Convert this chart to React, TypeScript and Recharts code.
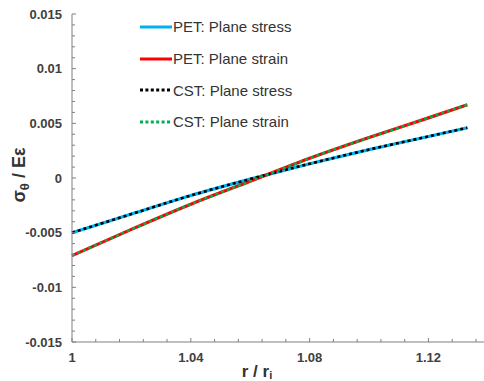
import { LineChart, Line, XAxis, YAxis, Legend, Customized } from "recharts";

const FONT = "'Liberation Sans', Arial, sans-serif";

// r / ri sample points and sigma_theta / E*eps
const rValues = [1, 1.02, 1.04, 1.06, 1.08, 1.1, 1.12, 1.1331];
const petStress = [-0.005, -0.0033, -0.0016, -0.0001, 0.0013, 0.0026, 0.0038, 0.0046];
const petStrain = [-0.0071, -0.0047, -0.0024, -0.0003, 0.0018, 0.0037, 0.0055, 0.0067];
const cstStress = [-0.005, -0.0033, -0.0016, -0.0001, 0.0013, 0.0026, 0.0038, 0.0046];
const cstStrain = [-0.0071, -0.0047, -0.0024, -0.0003, 0.0018, 0.0037, 0.0055, 0.0067];

const xTicks = [
  1, 1.008, 1.016, 1.024, 1.032, 1.04, 1.048, 1.056, 1.064, 1.072, 1.08, 1.088,
  1.096, 1.104, 1.112, 1.12, 1.128, 1.136,
];
const xLabels = [1, 1.04, 1.08, 1.12];
const yTicks = [
  -0.015, -0.014, -0.013, -0.012, -0.011, -0.01, -0.009, -0.008, -0.007, -0.006,
  -0.005, -0.004, -0.003, -0.002, -0.001, 0, 0.001, 0.002, 0.003, 0.004, 0.005,
  0.006, 0.007, 0.008, 0.009, 0.01, 0.011, 0.012, 0.013, 0.014, 0.015,
];
const yLabels = [-0.015, -0.01, -0.005, 0, 0.005, 0.01, 0.015];

const series = [
  { key: "petStress", name: "PET: Plane stress", color: "#00B0F0", dash: undefined, width: 3.2 },
  { key: "petStrain", name: "PET: Plane strain", color: "#FF0000", dash: undefined, width: 3.2 },
  { key: "cstStress", name: "CST: Plane stress", color: "#000000", dash: "3 3", width: 2.6 },
  { key: "cstStrain", name: "CST: Plane strain", color: "#00B050", dash: "3 3", width: 2.6 },
];

const data = rValues.map((r, i) => ({
  r,
  petStress: petStress[i],
  petStrain: petStrain[i],
  cstStress: cstStress[i],
  cstStrain: cstStrain[i],
}));

const isLabeled = (list: number[], v: number) => list.some((l) => Math.abs(l - v) < 1e-9);

function XTick({ x, y, payload }: any) {
  const major = isLabeled(xLabels, payload.value);
  return (
    <g>
      <line x1={x} x2={x} y1={y} y2={y - (major ? 4 : 3)} stroke="#808080" />
      {major && (
        <text x={x} y={y + 20} textAnchor="middle" fontFamily={FONT} fontSize={13} fontWeight="bold" fill="#404040">
          {String(payload.value)}
        </text>
      )}
    </g>
  );
}

function YTick({ x, y, payload }: any) {
  const major = isLabeled(yLabels, payload.value);
  return (
    <g>
      <line x1={x} x2={x + (major ? 4 : 3)} y1={y} y2={y} stroke="#808080" />
      {major && (
        <text x={x - 10} y={y + 4.5} textAnchor="end" fontFamily={FONT} fontSize={13} fontWeight="bold" fill="#404040">
          {String(payload.value)}
        </text>
      )}
    </g>
  );
}

function LegendBox() {
  return (
    <div style={{ fontFamily: FONT, fontSize: 15, color: "#333", lineHeight: "normal" }}>
      {series.map((s) => (
        <div key={s.key} style={{ display: "flex", alignItems: "center", height: 31.7 }}>
          <svg width={32} height={6} style={{ display: "block" }}>
            <line x1={0} x2={32} y1={3} y2={3} stroke={s.color} strokeWidth={3} strokeDasharray={s.dash ? "3 2.4" : undefined} />
          </svg>
          <span style={{ marginLeft: 1, whiteSpace: "nowrap" }}>{s.name}</span>
        </div>
      ))}
    </div>
  );
}

function AxisTitles() {
  return (
    <g fontFamily={FONT} fontWeight="bold" fill="#333">
      <text x={257} y={377} textAnchor="middle" fontSize={17}>
        r / r<tspan fontSize={11} dy={2}>i</tspan>
      </text>
      <text transform="rotate(-90)" x={-175} y={25} textAnchor="middle" fontSize={18}>
        σ<tspan fontSize={13} dy={4}>θ</tspan>
        <tspan dy={-4}> / Eε</tspan>
      </text>
    </g>
  );
}

export default function App() {
  return (
    <div style={{ position: "fixed", left: 0, top: 0, background: "#fff" }}>
      <LineChart width={484} height={381} data={data} margin={{ top: 14, right: 0, bottom: 0, left: 0 }}>
        <XAxis
          dataKey="r"
          type="number"
          domain={[1, 1.1387]}
          ticks={xTicks}
          interval={0}
          tick={<XTick />}
          tickSize={0}
          tickMargin={0}
          tickLine={false}
          axisLine={{ stroke: "#808080" }}
          height={39}
        />
        <YAxis
          type="number"
          domain={[-0.015, 0.015]}
          ticks={yTicks}
          interval={0}
          tick={<YTick />}
          tickSize={0}
          tickMargin={0}
          tickLine={false}
          axisLine={{ stroke: "#808080" }}
          width={72}
        />
        <Legend
          layout="vertical"
          align="center"
          verticalAlign="middle"
          content={<LegendBox />}
          wrapperStyle={{ top: 11, left: 140, width: 220 }}
        />
        {series.map((s) => (
          <Line
            key={s.key}
            dataKey={s.key}
            name={s.name}
            type="monotone"
            stroke={s.color}
            strokeWidth={s.width}
            strokeDasharray={s.dash}
            dot={false}
            activeDot={false}
            isAnimationActive={false}
          />
        ))}
        <Customized component={AxisTitles} />
      </LineChart>
    </div>
  );
}
